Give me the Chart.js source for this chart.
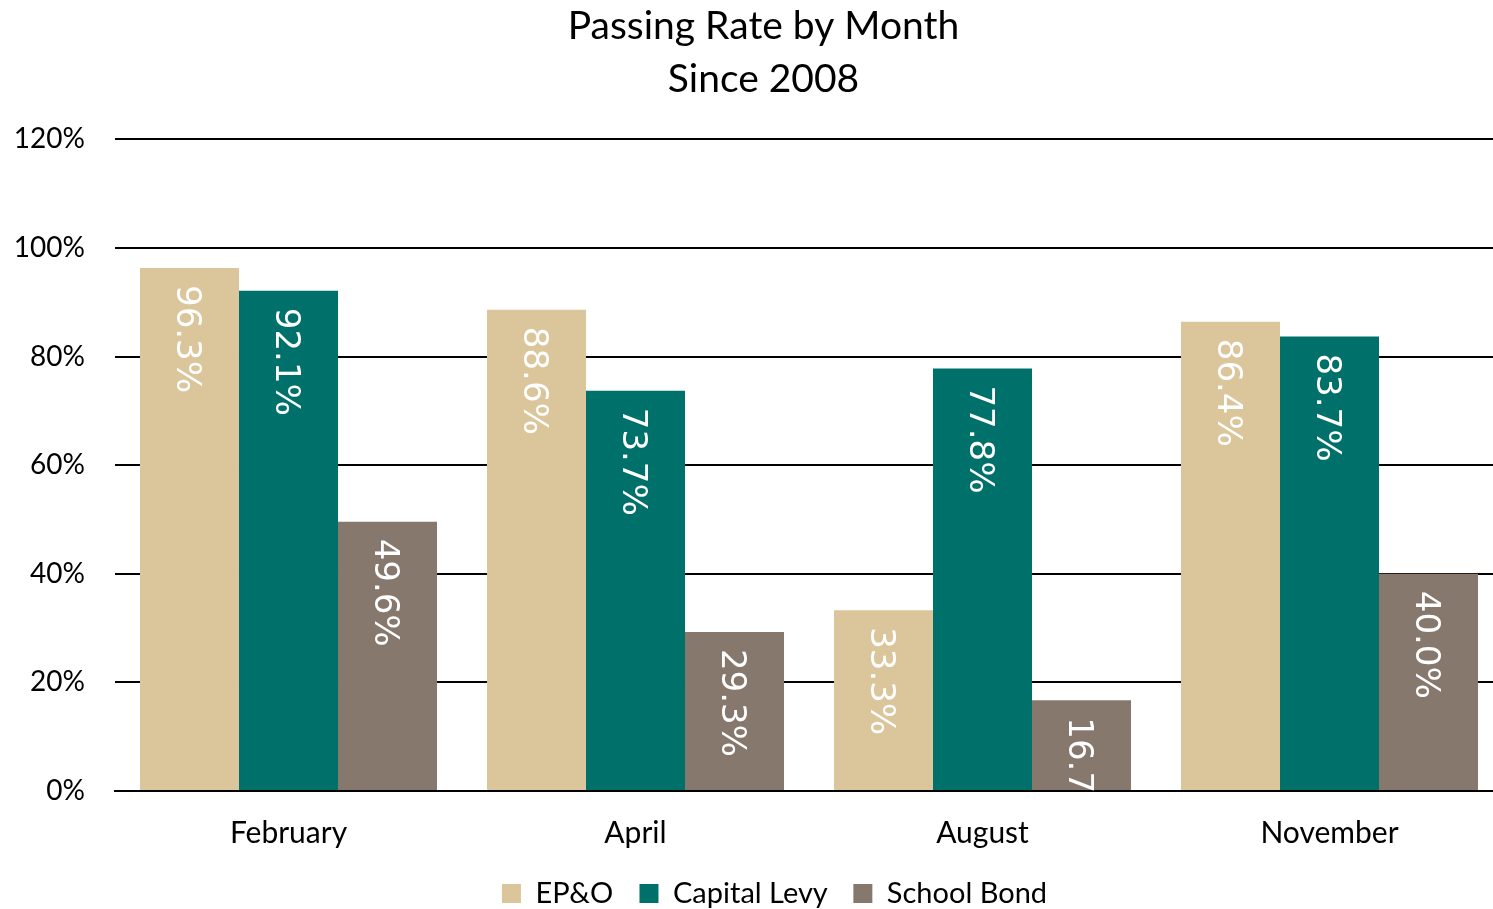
<!DOCTYPE html>
<html>
<head>
<meta charset="utf-8">
<script src="https://cdn.jsdelivr.net/npm/chart.js@4"></script>
<style>
html,body{margin:0;padding:0;background:#fff;}
#wrap{width:1493px;height:909px;position:relative;}
</style>
</head>
<body>
<div id="wrap"><canvas id="c" width="1493" height="909"></canvas></div>
<script>
const categories = ["February", "April", "August", "November"];
const epo = [96.3, 88.6, 33.3, 86.4];
const capitalLevy = [92.1, 73.7, 77.8, 83.7];
const schoolBond = [49.6, 29.3, 16.7, 40.0];
const seriesNames = ["EP&O", "Capital Levy", "School Bond"];
const titleLines = ["Passing Rate by Month", "Since 2008"];

const FONT = "Lato, 'Open Sans', sans-serif";

const layoutTweaks = {
  id: 'layoutTweaks',
  afterLayout(chart) {
    const tb = chart.titleBlock;
    if (tb) { tb.left += 34; }
    const lg = chart.legend;
    if (lg) { lg.left += 28; lg.right += 28; }
    const x = chart.scales.x;
    x.right += 10;
    x.width += 10;
    x.configure();
  }
};

const rotatedLabels = {
  id: 'rotatedLabels',
  afterDatasetsDraw(chart) {
    const ctx = chart.ctx;
    const area = chart.chartArea;
    ctx.save();
    ctx.beginPath();
    ctx.rect(area.left, area.top, area.right - area.left, area.bottom - area.top);
    ctx.clip();
    chart.data.datasets.forEach((ds, i) => {
      const meta = chart.getDatasetMeta(i);
      meta.data.forEach((bar, j) => {
        const v = ds.data[j];
        ctx.save();
        ctx.translate(bar.x - 4, bar.y + 17);
        ctx.rotate(Math.PI / 2);
        ctx.font = "34px 'DejaVu Sans', Verdana, sans-serif";
        ctx.fillStyle = '#ffffff';
        ctx.textAlign = 'left';
        ctx.textBaseline = 'middle';
        ctx.fillText(v.toFixed(1) + '%', 0, 0);
        ctx.restore();
      });
    });
    ctx.restore();
  }
};

new Chart(document.getElementById('c'), {
  type: 'bar',
  data: {
    labels: categories,
    datasets: [
      { label: seriesNames[0], data: epo, backgroundColor: '#DBC69B' },
      { label: seriesNames[1], data: capitalLevy, backgroundColor: '#00716A' },
      { label: seriesNames[2], data: schoolBond, backgroundColor: '#87786E' }
    ]
  },
  options: {
    responsive: false,
    animation: false,
    devicePixelRatio: 1,
    layout: { padding: { left: 0, right: 0, top: 0, bottom: -9 } },
    datasets: { bar: { categoryPercentage: 0.856, barPercentage: 1.0 } },
    plugins: {
      title: {
        display: true,
        text: titleLines,
        color: '#000',
        font: { family: FONT, size: 39, weight: 'normal', lineHeight: 1.35 },
        padding: { top: 0, bottom: 34 }
      },
      legend: {
        position: 'bottom',
        labels: {
          color: '#000',
          font: { family: FONT, size: 29 },
          boxWidth: 19,
          boxHeight: 19,
          padding: 4,
          generateLabels: chart => {
            const items = Chart.defaults.plugins.legend.labels.generateLabels(chart);
            items.forEach((it, i) => { if (i < items.length - 1) it.text += '\u00a0\u00a0\u00a0'; });
            return items;
          }
        }
      },
      tooltip: { enabled: false }
    },
    scales: {
      x: {
        grid: { display: false, drawTicks: false },
        border: { display: true, color: '#000', width: 2 },
        ticks: { color: '#000', font: { family: FONT, size: 30 }, padding: 24 }
      },
      y: {
        min: 0, max: 120,
        afterFit: s => { s.width = 115; },
        grid: { color: '#000', lineWidth: 2, drawTicks: false },
        border: { display: false },
        ticks: {
          stepSize: 20,
          color: '#000',
          font: { family: FONT, size: 28 },
          padding: 30,
          callback: v => v + '%'
        }
      }
    }
  },
  plugins: [layoutTweaks, rotatedLabels]
});
</script>
</body>
</html>
